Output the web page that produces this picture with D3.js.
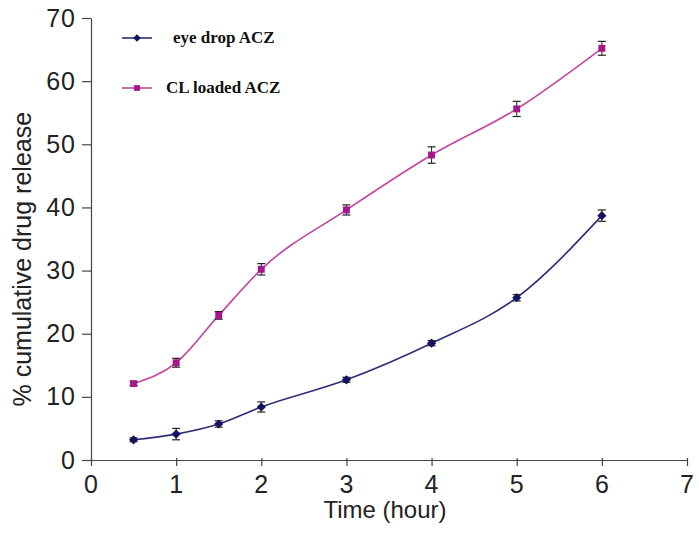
<!DOCTYPE html>
<html>
<head>
<meta charset="utf-8">
<script src="https://cdn.jsdelivr.net/npm/d3@7"></script>
<style>
  body { margin: 0; background: #fff; }
  svg { display: block; }
</style>
</head>
<body>
<div id="chart"></div>
<script>
// Cumulative drug release — eye drop vs CL loaded ACZ, smooth curves + error bars.
const hours = [0.5, 1, 1.5, 2, 3, 4, 5, 6];
const eyeDrop = [3.2, 4.1, 5.7, 8.4, 12.7, 18.5, 25.7, 38.7];
const eyeDropErr = [0.3, 0.9, 0.5, 0.8, 0.4, 0.4, 0.5, 0.9];
const clLoaded = [12.1, 15.4, 22.9, 30.2, 39.6, 48.3, 55.6, 65.2];
const clLoadedErr = [0.3, 0.7, 0.6, 0.9, 0.8, 1.3, 1.2, 1.1];
const xTicks = [0, 1, 2, 3, 4, 5, 6, 7];
const yTicks = [0, 10, 20, 30, 40, 50, 60, 70];

const W = 699, H = 533;
const padL = 91, padT = 18, padB = 73;

const svg = d3.select('#chart').append('svg')
  .attr('width', W).attr('height', H);

const x = d3.scaleLinear().domain([0, 7]).range([padL, 687]);
const y = d3.scaleLinear().domain([0, 70]).range([H - padB, padT]);

const AXIS = '#444';
const FONT = 'Liberation Sans, Arial, sans-serif';

// axes
const gx = svg.append('g').attr('transform', `translate(0,${y(0)})`)
  .call(d3.axisBottom(x).tickValues(xTicks).tickFormat(d3.format('d'))
    .tickSize(6).tickSizeOuter(0).tickPadding(9));
const gy = svg.append('g').attr('transform', `translate(${x(0)},0)`)
  .call(d3.axisLeft(y).tickValues(yTicks).tickFormat(d3.format('d'))
    .tickSize(9).tickSizeOuter(0).tickPadding(6));

[gx, gy].forEach(g => {
  g.select('.domain').attr('stroke', AXIS).attr('stroke-width', 1.2);
  g.selectAll('.tick line').attr('stroke', AXIS).attr('stroke-width', 1.2);
  g.selectAll('.tick text')
    .attr('font-family', FONT)
    .attr('font-size', 25)
    .attr('letter-spacing', 1)
    .attr('fill', '#222');
});
// x-axis ticks poke up a little too, like the original
gx.selectAll('.tick line').attr('y1', -2);

// axis titles
svg.append('text')
  .attr('x', 385).attr('y', 518)
  .attr('text-anchor', 'middle')
  .attr('font-family', FONT)
  .attr('font-size', 24)
  .attr('fill', '#222')
  .text('Time (hour)');

svg.append('text')
  .attr('transform', `translate(31,${y(31.8)}) rotate(-90)`)
  .attr('text-anchor', 'middle')
  .attr('font-family', FONT)
  .attr('font-size', 25)
  .attr('fill', '#222')
  .text('% cumulative drug release');

const series = [
  { name: 'eye drop ACZ', vals: eyeDrop, err: eyeDropErr,
    line: '#2e2e78', mark: '#13135f', sym: d3.symbolSquare, rot: 45, size: 42, lx: 173 },
  { name: 'CL loaded ACZ', vals: clLoaded, err: clLoadedErr,
    line: '#c2449f', mark: '#a3168c', sym: d3.symbolSquare, rot: 0, size: 48, lx: 166 },
];

const lineGen = d3.line()
  .x(d => x(d[0])).y(d => y(d[1]))
  .curve(d3.curveMonotoneX);

series.forEach(s => {
  const pts = hours.map((h, i) => [h, s.vals[i], s.err[i]]);

  svg.append('path')
    .datum(pts)
    .attr('d', lineGen)
    .attr('fill', 'none')
    .attr('stroke', s.line)
    .attr('stroke-width', 1.6);

  // error bars
  const eb = svg.append('g').selectAll('g').data(pts).join('g');
  eb.append('line')
    .attr('x1', d => x(d[0])).attr('x2', d => x(d[0]))
    .attr('y1', d => y(d[1] - d[2])).attr('y2', d => y(d[1] + d[2]))
    .attr('stroke', '#222').attr('stroke-width', 1);
  [-1, 1].forEach(sgn => {
    eb.append('line')
      .attr('x1', d => x(d[0]) - 4).attr('x2', d => x(d[0]) + 4)
      .attr('y1', d => y(d[1] + sgn * d[2])).attr('y2', d => y(d[1] + sgn * d[2]))
      .attr('stroke', '#222').attr('stroke-width', 1.2);
  });

  svg.append('g').selectAll('path').data(pts).join('path')
    .attr('transform', d => `translate(${x(d[0])},${y(d[1])}) rotate(${s.rot})`)
    .attr('d', d3.symbol().type(s.sym).size(s.size))
    .attr('fill', s.mark);
});

// legend
const legend = svg.append('g');
series.forEach((s, i) => {
  const ly = 38 + i * 50;
  legend.append('line')
    .attr('x1', 122).attr('x2', 152)
    .attr('y1', ly).attr('y2', ly)
    .attr('stroke', s.line).attr('stroke-width', 1.6);
  legend.append('path')
    .attr('transform', `translate(137,${ly}) rotate(${s.rot})`)
    .attr('d', d3.symbol().type(s.sym).size(s.size * 0.7))
    .attr('fill', s.mark);
  legend.append('text')
    .attr('x', s.lx).attr('y', ly + 5)
    .attr('font-family', 'Liberation Serif, Times New Roman, serif')
    .attr('font-weight', 'bold')
    .attr('font-size', 17)
    .attr('fill', '#111')
    .text(s.name);
});
</script>
</body>
</html>
